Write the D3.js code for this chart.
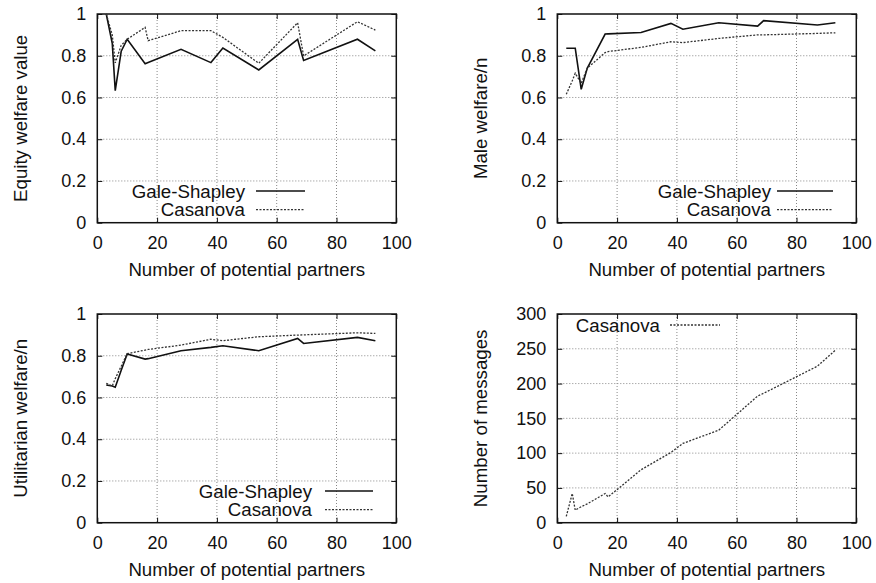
<!DOCTYPE html>
<html>
<head>
<meta charset="utf-8">
<script src="https://cdnjs.cloudflare.com/ajax/libs/d3/7.8.5/d3.min.js"></script>
<style>
  body { margin: 0; background: #fff; }
  svg { display: block; font-family: "Liberation Sans", Arial, sans-serif; }
  .tick text { font-size: 18px; fill: #111; }
  .lbl { font-size: 18.7px; fill: #111; }
</style>
</head>
<body>
<div id="chart"></div>
<script>
//x values (number of potential partners)
const partners = [3, 5, 6, 8, 10, 16, 17, 28, 38, 42, 54, 67, 69, 87, 93];

//series values
const equityGS  = [1.0, 0.86, 0.633, 0.822, 0.879, 0.762, 0.768, 0.831, 0.767, 0.837, 0.732, 0.879, 0.777, 0.879, 0.823];
const equityCas = [1.0, 0.90, 0.766, 0.85, 0.879, 0.936, 0.872, 0.92, 0.92, 0.888, 0.764, 0.958, 0.799, 0.963, 0.923];
const maleGS    = [0.836, 0.836, 0.836, 0.639, 0.74, 0.904, 0.905, 0.911, 0.955, 0.927, 0.958, 0.942, 0.968, 0.947, 0.958];
const maleCas   = [0.615, 0.68, 0.716, 0.668, 0.74, 0.815, 0.82, 0.84, 0.867, 0.863, 0.883, 0.9, 0.9, 0.907, 0.91];
const utilGS    = [0.66, 0.655, 0.649, 0.73, 0.808, 0.784, 0.786, 0.824, 0.84, 0.848, 0.824, 0.883, 0.859, 0.888, 0.872];
const utilCas   = [0.668, 0.655, 0.69, 0.75, 0.81, 0.827, 0.83, 0.851, 0.879, 0.872, 0.891, 0.899, 0.9, 0.91, 0.907];
const messagesCas = [9, 42, 18, 23, 27, 42, 37, 76, 101, 114, 133, 182, 186, 225, 248];

//tick labels
const xTicks = [0, 20, 40, 60, 80, 100];
const welfareTicks = [0, 0.2, 0.4, 0.6, 0.8, 1];
const messageTicks = [0, 50, 100, 150, 200, 250, 300];

const xTitle = "Number of potential partners";

const svg = d3.select("#chart")
    .append("svg")
    .attr("width", 876)
    .attr("height", 583);

//panel layout
const panels = [
    { left: 97.3, top: 14, yTitle: "Equity welfare value", yMax: 1, yTicks: welfareTicks,
      series: [{ name: "Gale-Shapley", values: equityGS, dash: null }, { name: "Casanova", values: equityCas, dash: "2,1.5" }],
      legend: { textEnd: 245, x1: 256, x2: 305, y: 191 } },
    { left: 557.3, top: 14, yTitle: "Male welfare/n", yMax: 1, yTicks: welfareTicks,
      series: [{ name: "Gale-Shapley", values: maleGS, dash: null }, { name: "Casanova", values: maleCas, dash: "2,1.5" }],
      legend: { textEnd: 771, x1: 777, x2: 833, y: 191 } },
    { left: 97.3, top: 314, yTitle: "Utilitarian welfare/n", yMax: 1, yTicks: welfareTicks,
      series: [{ name: "Gale-Shapley", values: utilGS, dash: null }, { name: "Casanova", values: utilCas, dash: "2,1.5" }],
      legend: { textEnd: 312, x1: 325, x2: 373, y: 491 } },
    { left: 557.3, top: 314, yTitle: "Number of messages", yMax: 300, yTicks: messageTicks,
      series: [{ name: "Casanova", values: messagesCas, dash: "2,1.5" }],
      legend: { textEnd: 660, x1: 670, x2: 720, y: 325 } }
];

const pw = 299, ph = 208.7;

panels.forEach(p => {
    const x = d3.scaleLinear().domain([0, 100]).range([p.left, p.left + pw]);
    const y = d3.scaleLinear().domain([0, p.yMax]).range([p.top + ph, p.top]);
    const g = svg.append("g");

    //grid
    g.append("g").selectAll("line").data(xTicks.slice(1, -1)).enter().append("line")
        .attr("x1", d => x(d)).attr("x2", d => x(d))
        .attr("y1", p.top).attr("y2", p.top + ph)
        .attr("stroke", "#888").attr("stroke-width", 1).attr("stroke-dasharray", "1,2");
    g.append("g").selectAll("line").data(p.yTicks.slice(1, -1)).enter().append("line")
        .attr("x1", p.left).attr("x2", p.left + pw)
        .attr("y1", d => y(d)).attr("y2", d => y(d))
        .attr("stroke", "#888").attr("stroke-width", 1).attr("stroke-dasharray", "1,2");

    //axes, inward ticks mirrored
    const fmt = d => +d.toFixed(1);
    g.append("g").attr("transform", `translate(0,${p.top + ph})`)
        .call(d3.axisBottom(x).tickValues(xTicks).tickSizeInner(-5).tickSizeOuter(0).tickPadding(13.5))
        .call(a => a.select(".domain").remove());
    g.append("g").attr("transform", `translate(0,${p.top})`)
        .call(d3.axisTop(x).tickValues(xTicks).tickSizeInner(-5).tickSizeOuter(0).tickFormat(""))
        .call(a => a.select(".domain").remove());
    g.append("g").attr("transform", `translate(${p.left},0)`)
        .call(d3.axisLeft(y).tickValues(p.yTicks).tickFormat(fmt).tickSizeInner(-5).tickSizeOuter(0).tickPadding(11))
        .call(a => a.select(".domain").remove());
    g.append("g").attr("transform", `translate(${p.left + pw},0)`)
        .call(d3.axisRight(y).tickValues(p.yTicks).tickSizeInner(-5).tickSizeOuter(0).tickFormat(""))
        .call(a => a.select(".domain").remove());
    g.selectAll(".tick line").attr("stroke", "#111");

    //border
    g.append("rect")
        .attr("x", p.left).attr("y", p.top).attr("width", pw).attr("height", ph)
        .attr("fill", "none").attr("stroke", "#111").attr("stroke-width", 1.5);

    //series
    p.series.forEach(s => {
        const line = d3.line().x((d, i) => x(partners[i])).y(d => y(d));
        g.append("path")
            .datum(s.values)
            .attr("d", line)
            .attr("fill", "none")
            .attr("stroke", s.dash ? "#333" : "#111")
            .attr("stroke-width", s.dash ? 1.3 : 1.6)
            .attr("stroke-dasharray", s.dash);
    });

    //legend
    p.series.forEach((s, i) => {
        const ly = p.legend.y + i * 18.6;
        g.append("text").attr("class", "lbl")
            .attr("x", p.legend.textEnd).attr("y", ly)
            .attr("dy", "0.35em").attr("text-anchor", "end")
            .text(s.name);
        g.append("line")
            .attr("x1", p.legend.x1).attr("x2", p.legend.x2)
            .attr("y1", ly).attr("y2", ly)
            .attr("stroke", s.dash ? "#333" : "#111")
            .attr("stroke-width", s.dash ? 1.3 : 1.6)
            .attr("stroke-dasharray", s.dash);
    });

    //axis titles
    g.append("text").attr("class", "lbl")
        .attr("x", p.left + pw / 2).attr("y", p.top + ph + 53.5)
        .attr("text-anchor", "middle")
        .text(xTitle);
    g.append("text").attr("class", "lbl")
        .attr("transform", `translate(${p.left - 77},${p.top + ph / 2}) rotate(-90)`)
        .attr("text-anchor", "middle").attr("dy", "0.35em")
        .text(p.yTitle);
});
</script>
</body>
</html>
